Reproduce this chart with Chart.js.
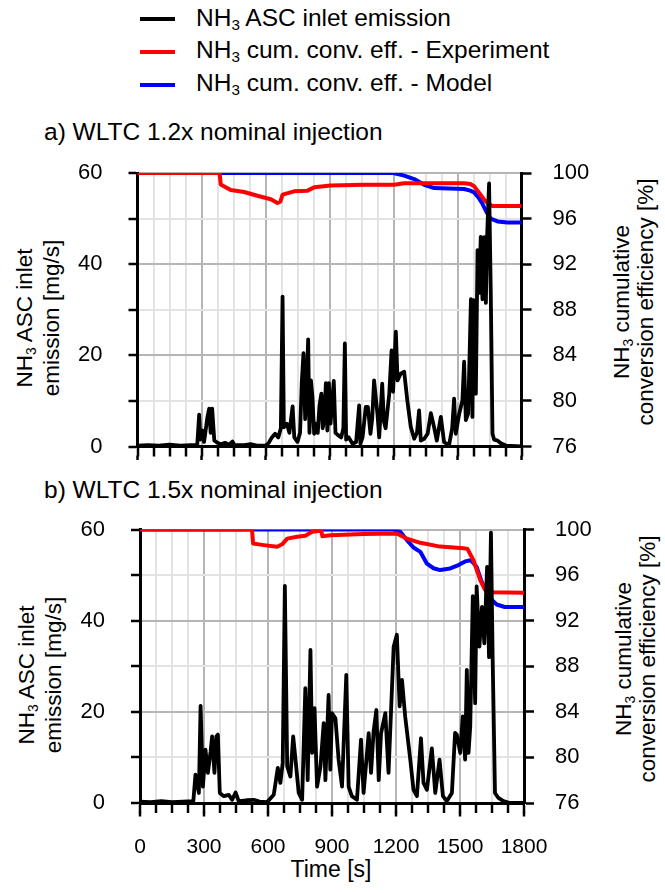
<!DOCTYPE html>
<html><head><meta charset="utf-8">
<script src="https://cdn.jsdelivr.net/npm/chart.js@4.4.1/dist/chart.umd.min.js"></script>
<style>
html,body{margin:0;padding:0;background:#fff;}
body{width:665px;height:893px;position:relative;overflow:hidden;font-family:"Liberation Sans",Arial,sans-serif;color:#000;}
canvas{position:absolute;left:0;}
.t{position:absolute;white-space:nowrap;line-height:1;}
.rot{position:absolute;white-space:nowrap;text-align:center;transform:translate(-50%,-50%) rotate(-90deg);}
sub{font-size:0.62em;vertical-align:-0.28em;line-height:0;}
.leg{position:absolute;height:4px;width:35px;left:140px;}
</style></head><body>

<div class="leg" style="top:17px;background:#000"></div>
<div class="leg" style="top:50px;background:#ff0000"></div>
<div class="leg" style="top:83px;background:#0000ff"></div>
<div class="t" style="left:196px;top:5.5px;font-size:24.5px">NH<sub>3</sub> ASC inlet emission</div>
<div class="t" style="left:196px;top:37.5px;font-size:24.5px">NH<sub>3</sub> cum. conv. eff. - Experiment</div>
<div class="t" style="left:196px;top:70.5px;font-size:24.5px">NH<sub>3</sub> cum. conv. eff. - Model</div>

<div class="t" style="left:44px;top:119.5px;font-size:24.5px">a) WLTC 1.2x nominal injection</div>
<div class="t" style="left:44px;top:477.5px;font-size:24.5px">b) WLTC 1.5x nominal injection</div>

<div class="rot" style="left:38px;top:318px;font-size:22.5px;line-height:27px">NH<sub>3</sub> ASC inlet<br>emission [mg/s]</div>
<div class="rot" style="left:634px;top:302px;font-size:22.5px;line-height:24px">NH<sub>3</sub> cumulative<br>conversion efficiency [%]</div>
<div class="rot" style="left:40px;top:675px;font-size:22.5px;line-height:27px">NH<sub>3</sub> ASC inlet<br>emission [mg/s]</div>
<div class="rot" style="left:636px;top:659px;font-size:22.5px;line-height:24px">NH<sub>3</sub> cumulative<br>conversion efficiency [%]</div>

<div class="t" style="left:331px;top:857.5px;font-size:23px;transform:translateX(-50%)">Time [s]</div>

<canvas id="cA" width="665" height="320" style="top:150px"></canvas>
<canvas id="cB" width="665" height="388" style="top:505px"></canvas>

<script>
// ---------- Data ----------
const xTickLabels = [0, 300, 600, 900, 1200, 1500, 1800];
const yLeftLabels = [0, 20, 40, 60];
const yRightLabels = [76, 80, 84, 88, 92, 96, 100];

// Panel a) WLTC 1.2x nominal injection
const emisA_t = [0,50,100,150,200,250,280,289,295,305,312,328,336,343,350,360,375,390,410,430,445,455,500,530,560,600,615,630,645,660,672,680,686,700,712,727,735,750,762,770,778,786,793,800,806,813,820,828,836,845,853,862,868,876,883,890,897,905,920,928,940,955,965,972,978,990,1008,1025,1039,1045,1055,1070,1080,1092,1100,1109,1125,1133,1147,1155,1163,1180,1191,1198,1211,1219,1234,1250,1265,1281,1297,1310,1320,1328,1344,1360,1375,1390,1403,1422,1437,1460,1475,1484,1492,1500,1508,1523,1531,1539,1550,1563,1570,1575,1586,1594,1602,1609,1617,1625,1633,1639,1648,1656,1664,1672,1688,1703,1727,1800];
const emisA_v = [0.2,0.3,0.2,0.4,0.2,0.3,0.3,7.0,1.5,3.5,1.0,6.5,8.3,3.0,8.3,1.3,0.8,0.5,0.8,0.4,1.1,0.3,0.3,0.5,0.2,0.2,0.8,2.0,2.8,2.0,4.0,32.9,4.2,5.0,3.0,8.8,2.0,1.0,3.0,14.0,20.5,6.0,14.0,23.5,3.0,14.5,10.9,2.8,5.0,3.0,9.0,11.6,4.0,6.0,13.9,3.5,13.9,5.0,14.4,3.0,2.5,2.0,4.0,22.6,1.5,2.0,0.6,1.0,9.0,0.6,2.0,8.7,8.7,2.8,6.0,14.5,7.0,2.0,13.8,5.5,4.0,11.5,21.1,12.0,25.2,14.5,16.0,16.4,10.0,4.3,1.7,3.0,7.9,1.3,1.7,2.8,7.3,4.3,1.3,6.5,1.0,0.2,4.0,10.5,2.8,5.0,7.2,10.1,18.6,5.8,7.2,32.3,6.5,32.1,11.6,43.1,33.7,46.0,32.3,45.9,31.5,46.4,57.7,33.6,2.8,1.5,1.3,0.7,0.2,0.0];
const expA_t = [0,385,390,437,500,562,625,656,670,680,734,797,828,906,1062,1203,1250,1531,1560,1578,1600,1625,1645,1664,1800];
const expA_v = [100,100,99.0,98.5,98.33,98.0,97.7,97.36,97.5,98.1,98.39,98.45,98.74,98.9,98.97,98.97,99.1,99.1,99.03,98.83,98.3,97.65,97.3,97.1,97.1];
const modA_t = [0,1200,1220,1250,1297,1344,1391,1531,1560,1578,1600,1617,1635,1655,1688,1734,1800];
const modA_v = [100,100,99.9,99.77,99.47,98.97,98.68,98.6,98.45,98.3,97.8,97.3,96.6,96.0,95.75,95.66,95.65];

// Panel b) WLTC 1.5x nominal injection
const emisB_t = [0,50,100,150,200,250,260,276,284,295,307,318,331,338,349,358,365,374,393,416,432,448,463,500,533,560,596,627,646,658,669,679,690,705,718,729,744,760,775,786,799,807,818,830,846,861,869,884,892,900,916,931,947,967,978,993,1017,1036,1048,1072,1083,1095,1108,1119,1130,1150,1165,1189,1204,1217,1228,1243,1267,1282,1298,1317,1329,1345,1368,1384,1404,1420,1438,1462,1477,1485,1501,1513,1524,1532,1540,1548,1560,1571,1578,1591,1603,1614,1627,1636,1645,1653,1664,1680,1704,1735,1800];
const emisB_v = [0.3,0.2,0.4,0.2,0.3,0.4,6.2,2.2,21.3,3.6,11.7,6.6,11.3,14.6,6.6,14.6,15.0,2.2,1.5,1.8,0.7,2.3,0.4,0.6,0.7,0.3,0.2,1.8,7.7,4.4,8.8,47.6,8.0,5.8,14.6,9.5,2.2,0.7,25.2,5.0,33.6,11.0,20.8,3.6,8.0,17.5,5.0,23.7,7.3,19.7,18.6,9.5,3.6,28.1,3.6,1.5,0.7,13.9,2.2,15.3,6.6,15.7,20.4,5.0,15.3,19.7,6.6,34.3,36.9,21.2,27.0,19.0,9.5,2.9,1.5,14.2,4.4,2.9,12.0,2.2,9.5,1.5,0.4,2.2,15.4,15.0,11.0,19.0,9.5,29.2,11.0,16.8,45.4,21.9,47.5,34.3,43.0,35.0,51.8,32.0,59.3,32.0,2.2,1.1,0.4,0.0,0.0];
const expB_t = [0,525,530,580,643,666,690,736,775,807,845,850,855,892,1048,1204,1251,1314,1407,1516,1535,1563,1594,1615,1650,1800];
const expB_v = [100,100,98.77,98.63,98.48,98.7,99.2,99.36,99.45,99.8,99.88,99.85,99.4,99.5,99.6,99.65,99.2,98.83,98.5,98.36,98.3,97.3,95.6,94.8,94.5,94.45];
const modB_t = [0,1189,1220,1251,1282,1314,1345,1376,1407,1454,1493,1524,1550,1578,1600,1633,1672,1710,1800];
const modB_v = [100,100,99.8,99.07,98.42,98.04,97.0,96.6,96.44,96.58,96.88,97.2,97.3,96.73,95.5,94.1,93.42,93.2,93.2];

// ---------- Chart helpers ----------
const FONT = '"Liberation Sans", Arial, sans-serif';
const pts = (ts, vs) => ts.map((t, i) => ({x: t, y: vs[i]}));

const majorTickPlugin = {
  id: 'majorTicks',
  afterDraw(chart) {
    const xs = chart.scales.x, ctx = chart.ctx, b = chart.chartArea.bottom;
    ctx.save();
    ctx.strokeStyle = '#000'; ctx.lineWidth = 2.5;
    xTickLabels.forEach(v => {
      const px = xs.getPixelForValue(v);
      ctx.beginPath(); ctx.moveTo(px, b + 9); ctx.lineTo(px, b + 13.5); ctx.stroke();
    });
    ctx.restore();
  }
};

function makePanel(id, emis, exp, mod, opt) {
  new Chart(document.getElementById(id), {
    type: 'line',
    data: {
      datasets: [
        {data: emis, borderColor: '#000', borderWidth: 3.8, yAxisID: 'y', order: 0},
        {data: exp, borderColor: '#ff0000', borderWidth: 4, yAxisID: 'y1', order: 1},
        {data: mod, borderColor: '#0000ff', borderWidth: 4, yAxisID: 'y1', order: 2}
      ]
    },
    options: {
      responsive: false, animation: false, devicePixelRatio: 1,
      elements: {point: {radius: 0}, line: {tension: 0, borderJoinStyle: 'round', borderCapStyle: 'round'}},
      layout: {padding: {top: opt.padTop, left: 0, right: 0, bottom: 0}},
      plugins: {legend: {display: false}, tooltip: {enabled: false}},
      scales: {
        x: {
          type: 'linear', min: 0, max: 1800, position: 'bottom',
          afterFit: s => { s.height = opt.xH; s.paddingLeft = 0; s.paddingRight = 0; },
          ticks: {
            stepSize: 75, autoSkip: false, maxRotation: 0, padding: 22,
            color: '#000', font: {family: FONT, size: 21},
            display: opt.showX,
            callback: v => xTickLabels.includes(v) ? String(v) : ''
          },
          grid: {
            color: c => (c.tick && c.tick.value % 300 === 0) ? '#b5b5b5' : '#e3e3e3',
            lineWidth: 2, tickLength: 10, tickColor: '#000', tickWidth: 2.5, drawTicks: true
          },
          border: {color: '#000', width: 3}
        },
        y: {
          type: 'linear', min: 0, max: 60, position: 'left',
          afterFit: s => { s.width = opt.leftW; s.paddingTop = 0; s.paddingBottom = 0; },
          ticks: {
            stepSize: 10, padding: 26, color: '#000', font: {family: FONT, size: 22},
            callback: v => yLeftLabels.includes(v) ? String(v) : ''
          },
          grid: {
            color: c => (c.tick && c.tick.value % 20 === 0) ? '#b5b5b5' : '#e3e3e3',
            lineWidth: 2, tickLength: 9, tickColor: '#000', tickWidth: 2.5
          },
          border: {color: '#000', width: 3}
        },
        y1: {
          type: 'linear', min: 76, max: 100, position: 'right',
          afterFit: s => { s.width = opt.rightW; s.paddingTop = 0; s.paddingBottom = 0; },
          ticks: {
            stepSize: 2, padding: 21, color: '#000', font: {family: FONT, size: 22},
            callback: v => yRightLabels.includes(v) ? String(v) : ''
          },
          grid: {drawOnChartArea: false, tickLength: 10, tickColor: '#000', tickWidth: 2.5},
          border: {color: '#000', width: 3}
        }
      }
    },
    plugins: [majorTickPlugin]
  });
}

makePanel('cA', pts(emisA_t, emisA_v), pts(expA_t, expA_v), pts(modA_t, modA_v),
  {padTop: 23, xH: 23.5, leftW: 137.5, rightW: 143.5, showX: false});
makePanel('cB', pts(emisB_t, emisB_v), pts(expB_t, expB_v), pts(modB_t, modB_v),
  {padTop: 24.5, xH: 90, leftW: 140, rightW: 141, showX: true});
</script>
</body></html>
